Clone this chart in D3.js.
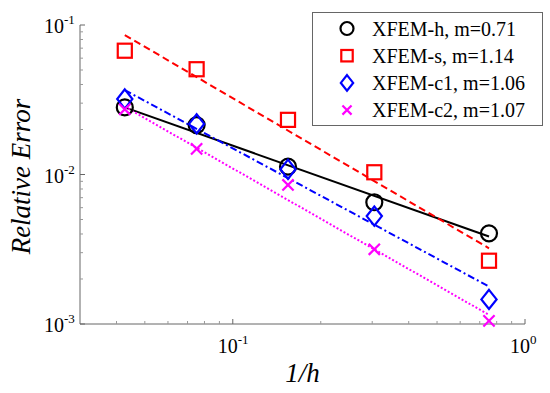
<!DOCTYPE html>
<meta charset="utf-8">
<style>
    body { margin: 0; background: #fff; }
    .tick-label { font-family: 'Liberation Serif', 'Times New Roman', serif; font-size: 20px; fill: #000; }
    .axis-title { font-family: 'Liberation Serif', 'Times New Roman', serif; font-style: italic; font-size: 27px; fill: #000; }
    .legend-text { font-family: 'Liberation Serif', 'Times New Roman', serif; font-size: 20px; fill: #000; }
</style>
<body>
<script src="https://cdnjs.cloudflare.com/ajax/libs/d3/7.8.5/d3.min.js"></script>
<script>
    // data
    var invH = [0.0427, 0.0752, 0.1545, 0.305, 0.753];
    var names = ["XFEM-h, m=0.71", "XFEM-s, m=1.14", "XFEM-c1, m=1.06", "XFEM-c2, m=1.07"];
    var errH  = [0.0281, 0.0214, 0.01128, 0.00652, 0.00404];
    var errS  = [0.0673, 0.0506, 0.0232, 0.01035, 0.00265];
    var errC1 = [0.0320, 0.0218, 0.01084, 0.00527, 0.00146];
    var errC2 = [0.0273, 0.01483, 0.00851, 0.00316, 0.00105];
    // fitted lines: value at first and last 1/h
    var fitH  = [0.0281, 0.00385];
    var fitS  = [0.0857, 0.00321];
    var fitC1 = [0.0367, 0.00178];
    var fitC2 = [0.0284, 0.00115];
    var xTicks = [0.1, 1];
    var yTicks = [0.001, 0.01, 0.1];

    var W = 550, H = 393;
    var pL = 80, pR = 525, pT = 25, pB = 324;

    var svg = d3.select("body").append("svg")
        .attr("width", W)
        .attr("height", H);

    var x = d3.scaleLog().domain([0.03, 1]).range([pL, pR]);
    var y = d3.scaleLog().domain([0.001, 0.1]).range([pB, pT]);

    var series = [
        { name: names[0], err: errH,  fit: fitH,  color: "#000000", dash: null,        shape: "circle" },
        { name: names[1], err: errS,  fit: fitS,  color: "#ff0000", dash: "7,4",       shape: "square" },
        { name: names[2], err: errC1, fit: fitC1, color: "#0000ff", dash: "7,3,2,3",   shape: "diamond" },
        { name: names[3], err: errC2, fit: fitC2, color: "#ff00ff", dash: "2,2",       shape: "cross" }
    ];

    // minor ticks
    var xMinor = [], yMinor = [];
    [0.01, 0.1].forEach(function(d) {
        for (var k = 2; k <= 9; k++) {
            var v = d * k;
            if (v > 0.03 && v < 1) xMinor.push(v);
        }
    });
    [0.001, 0.01].forEach(function(d) {
        for (var k = 2; k <= 9; k++) yMinor.push(d * k);
    });

    var axes = svg.append("g").attr("stroke", "#666").attr("stroke-width", 1);
    axes.append("line").attr("x1", pL).attr("x2", pR).attr("y1", pB).attr("y2", pB);
    axes.append("line").attr("x1", pL).attr("x2", pL).attr("y1", pT).attr("y2", pB);

    axes.selectAll(".xmin").data(xMinor).enter().append("line")
        .attr("x1", function(d) { return x(d); }).attr("x2", function(d) { return x(d); })
        .attr("y1", pB).attr("y2", pB - 3).attr("stroke", "#999");
    axes.selectAll(".xmaj").data(xTicks).enter().append("line")
        .attr("x1", function(d) { return x(d); }).attr("x2", function(d) { return x(d); })
        .attr("y1", pB).attr("y2", pB - 5);
    axes.selectAll(".ymin").data(yMinor).enter().append("line")
        .attr("y1", function(d) { return y(d); }).attr("y2", function(d) { return y(d); })
        .attr("x1", pL).attr("x2", pL + 3).attr("stroke", "#999");
    axes.selectAll(".ymaj").data(yTicks).enter().append("line")
        .attr("y1", function(d) { return y(d); }).attr("y2", function(d) { return y(d); })
        .attr("x1", pL).attr("x2", pL + 5);

    function powLabel(sel, v) {
        var e = Math.round(Math.log10(v));
        sel.append("tspan").text("10");
        sel.append("tspan").attr("dy", -9).attr("font-size", 13).text(e);
    }

    svg.selectAll(".xlab").data(xTicks).enter().append("text")
        .attr("class", "tick-label")
        .attr("x", function(d) { return x(d) - 15; })
        .attr("y", pB + 29)
        .each(function(d) { powLabel(d3.select(this), d); });

    svg.selectAll(".ylab").data(yTicks).enter().append("text")
        .attr("class", "tick-label")
        .attr("x", pL - 36)
        .attr("y", function(d) { return y(d) + 8; })
        .each(function(d) { powLabel(d3.select(this), d); });

    svg.append("text").attr("class", "axis-title")
        .attr("x", (pL + pR) / 2).attr("y", pB + 58)
        .attr("text-anchor", "middle").text("1/h");
    svg.append("text").attr("class", "axis-title")
        .attr("transform", "translate(30," + ((pT + pB) / 2 + 2) + ") rotate(-90)")
        .attr("text-anchor", "middle").text("Relative Error");

    function drawMarker(g, shape, color, s) {
        var sw = 2.2;
        if (shape === "circle") {
            g.append("circle").attr("r", s).attr("fill", "none").attr("stroke", color).attr("stroke-width", sw);
        } else if (shape === "square") {
            var h = s * 0.88;
            g.append("rect").attr("x", -h).attr("y", -h).attr("width", 2 * h).attr("height", 2 * h)
                .attr("fill", "none").attr("stroke", color).attr("stroke-width", sw);
        } else if (shape === "diamond") {
            var w = s * 0.95, t = s * 1.2;
            g.append("path").attr("d", "M0," + (-t) + "L" + w + ",0L0," + t + "L" + (-w) + ",0Z")
                .attr("fill", "none").attr("stroke", color).attr("stroke-width", sw);
        } else {
            var c = s * 0.7;
            g.append("path").attr("d", "M" + (-c) + "," + (-c) + "L" + c + "," + c + "M" + (-c) + "," + c + "L" + c + "," + (-c))
                .attr("fill", "none").attr("stroke", color).attr("stroke-width", sw);
        }
    }

    var plot = svg.append("g");
    series.forEach(function(s) {
        plot.append("line")
            .attr("x1", x(invH[0])).attr("y1", y(s.fit[0]))
            .attr("x2", x(invH[invH.length - 1])).attr("y2", y(s.fit[1]))
            .attr("stroke", s.color).attr("stroke-width", 2)
            .attr("stroke-dasharray", s.dash);
    });
    series.forEach(function(s) {
        s.err.forEach(function(v, i) {
            var g = plot.append("g").attr("transform", "translate(" + x(invH[i]) + "," + y(v) + ")");
            drawMarker(g, s.shape, s.color, 8);
        });
    });

    // legend
    var lg = svg.append("g");
    lg.append("rect").attr("x", 312.5).attr("y", 12.5).attr("width", 230).attr("height", 113)
        .attr("fill", "#fff").attr("stroke", "#666").attr("stroke-width", 1);
    series.forEach(function(s, i) {
        var cy = 28.5 + i * 27.2;
        var g = lg.append("g").attr("transform", "translate(347," + cy + ")");
        drawMarker(g, s.shape, s.color, 6.5);
        lg.append("text").attr("class", "legend-text")
            .attr("x", 372).attr("y", cy + 7).text(s.name);
    });
</script>
</body>
